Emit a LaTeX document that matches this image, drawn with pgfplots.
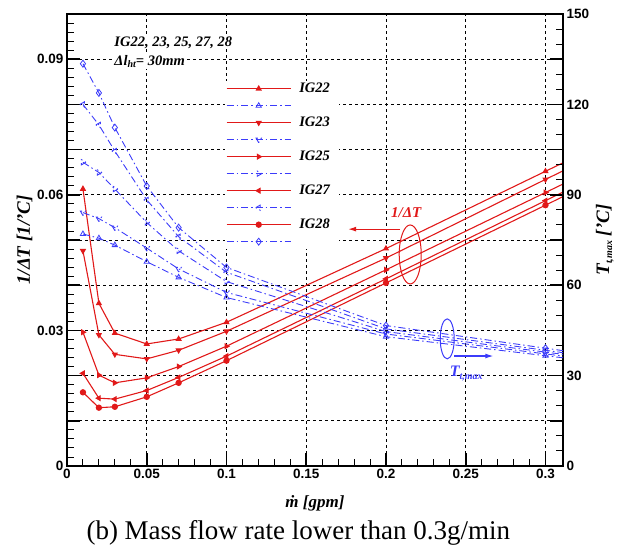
\documentclass[border=0pt]{standalone}
\usepackage{fontspec}
\setmainfont{Liberation Serif}
\newfontfamily\arialf{Liberation Sans}
\usepackage{pgfplots}
\usepackage{pgfplotstable}
\usetikzlibrary{arrows.meta,calc}
\pgfplotsset{compat=1.18}
\definecolor{myred}{RGB}{225,25,25}
\definecolor{myblue}{RGB}{60,60,250}
\newcommand{\tickfont}{\arialf\bfseries\fontsize{13.5}{13.5}\selectfont}
\newcommand{\bi}{\bfseries\itshape}
\newcommand{\sub}[1]{\raisebox{-0.35ex}{\fontsize{10}{10}\selectfont #1}}

\pgfplotstableread{
x     IG22   IG23   IG25   IG27   IG28
0.01  0.0613 0.0476 0.0296 0.0205 0.0163
0.02  0.0360 0.0290 0.0201 0.0150 0.0129
0.03  0.0294 0.0247 0.0184 0.0148 0.0131
0.05  0.0270 0.0237 0.0195 0.0167 0.0153
0.07  0.0281 0.0256 0.0220 0.0196 0.0184
0.10  0.0318 0.0298 0.0265 0.0243 0.0233
0.20  0.0481 0.0460 0.0434 0.0414 0.0405
0.30  0.0652 0.0634 0.0605 0.0587 0.0577
0.40  0.0822 0.0806 0.0776 0.0760 0.0750
}\redtab

\pgfplotstableread{
x     IG22  IG23  IG25  IG27  IG28
0.01  77.0  84.1  100.8 120.0 133.5
0.02  75.6  82.1  97.4  113.2 123.8
0.03  73.3  79.1  91.9  104.5 112.3
0.05  67.8  72.3  80.8  88.3  92.9
0.07  62.6  65.4  71.4  76.1  79.1
0.10  55.9  57.6  61.2  64.3  65.9
0.20  42.9  43.8  44.6  45.5  46.6
0.30  36.6  37.2  37.8  38.4  39.1
0.40  30.3  30.6  31.0  31.3  31.6
}\bluetab

\pgfplotsset{
  every axis/.append style={
    scale only axis, width=496pt, height=452pt,
    xmin=0, xmax=0.311,
    tick label style={font=\tickfont},
    major tick length=13pt, minor tick length=7pt,
    every major tick/.append style={line width=1.6pt, black},
    every minor tick/.append style={line width=0.9pt, black},
    axis line style={line width=2.5pt, black},
  },
  redline/.style={myred, line width=1.1pt, mark size=2.6pt},
  blueline/.style={myblue, line width=0.9pt, dash pattern=on 7pt off 3pt on 1.5pt off 3pt, mark size=3pt, mark options={solid, fill=white, line width=0.8pt}},
}

\begin{document}
\begin{tikzpicture}
\begin{axis}[
  ymin=0, ymax=0.1,
  tick pos=left,
  xtick={0,0.05,0.1,0.15,0.2,0.25,0.3},
  xticklabels={0,0.05,0.1,0.15,0.2,0.25,0.3},
  ytick={0,0.01,0.02,0.03,0.04,0.05,0.06,0.07,0.08,0.09,0.1},
  yticklabels={0,,,0.03,,,0.06,,,0.09,},
  minor x tick num=4, minor y tick num=4,
  grid=major,
  grid style={black, line width=0.8pt, dash pattern=on 3pt off 3pt},
  xlabel={\bi\fontsize{17}{17}\selectfont \.{m} [gpm]},
  xlabel style={yshift=-10pt},
  ylabel={\bi\fontsize{19}{19}\selectfont 1/ΔT [1/'C]},
  ylabel style={yshift=-2pt},
  clip mode=individual,
]
\addplot[redline, mark=triangle*] table[x=x,y=IG22]{\redtab};
\addplot[redline, mark=triangle*, mark options={rotate=180}] table[x=x,y=IG23]{\redtab};
\addplot[redline, mark=triangle*, mark options={rotate=-90}] table[x=x,y=IG25]{\redtab};
\addplot[redline, mark=triangle*, mark options={rotate=90}] table[x=x,y=IG27]{\redtab};
\addplot[redline, mark=*] table[x=x,y=IG28]{\redtab};
\node[fill=white, inner sep=1pt, anchor=west, font=\bi\fontsize{14.5}{14.5}\selectfont] at (axis cs:0.029,0.0937) {IG22, 23, 25, 27, 28};
\node[fill=white, inner sep=1pt, anchor=west, font=\bi\fontsize{14.5}{14.5}\selectfont] at (axis cs:0.029,0.0895) {Δ\textit{l}\sub{ht}= 30mm};
\node[myred, font=\bi\fontsize{15}{15}\selectfont] at (axis cs:0.2127,0.056) {1/ΔT};
\draw[myred, line width=1pt] (axis cs:0.2152,0.0468) ellipse [x radius=11pt, y radius=29.5pt];
\draw[myred, line width=1.1pt, -{Latex[length=8pt,width=5pt]}] (axis cs:0.2089,0.0524) -- (axis cs:0.1763,0.0524);
\coordinate (bl) at (rel axis cs:0,0);
\coordinate (br) at (rel axis cs:1,0);
\coordinate (tr) at (rel axis cs:1,1);
\end{axis}
\begin{axis}[
  ymin=0, ymax=150,
  axis x line=none,
  axis y line*=right,
  ytick={0,15,30,45,60,75,90,105,120,135,150},
  yticklabels={0,,30,,60,,90,,120,,150},
  minor y tick num=2,
  ylabel={\bi\fontsize{19}{19}\selectfont T\sub{t,max} ['C]},
  legend image code/.code={\draw[mark repeat=2,mark phase=2,#1] plot coordinates {(0pt,0pt) (32pt,0pt) (64pt,0pt)};},
  legend style={at={(rel axis cs:0.3185,0.8518)}, anchor=north west, draw=none, fill=white,
    font=\bi\fontsize{14.5}{14.5}\selectfont, row sep=4pt, inner sep=1pt,
    nodes={inner ysep=0pt, inner xsep=8pt, text height=10pt, text depth=3pt}},
  legend cell align=left,
]
\addlegendimage{redline, mark=triangle*}
\addlegendentry{IG22}
\addlegendimage{blueline, mark=triangle}
\addlegendentry{}
\addlegendimage{redline, mark=triangle*, mark options={rotate=180}}
\addlegendentry{IG23}
\addlegendimage{blueline, mark=triangle, mark options={rotate=180}}
\addlegendentry{}
\addlegendimage{redline, mark=triangle*, mark options={rotate=-90}}
\addlegendentry{IG25}
\addlegendimage{blueline, mark=triangle, mark options={rotate=-90}}
\addlegendentry{}
\addlegendimage{redline, mark=triangle*, mark options={rotate=90}}
\addlegendentry{IG27}
\addlegendimage{blueline, mark=triangle, mark options={rotate=90}}
\addlegendentry{}
\addlegendimage{redline, mark=*}
\addlegendentry{IG28}
\addlegendimage{blueline, mark=diamond, mark size=3.5pt}
\addlegendentry{}
\addplot[blueline, mark=triangle, forget plot] table[x=x,y=IG22]{\bluetab};
\addplot[blueline, mark=triangle, mark options={rotate=180}, forget plot] table[x=x,y=IG23]{\bluetab};
\addplot[blueline, mark=triangle, mark options={rotate=-90}, forget plot] table[x=x,y=IG25]{\bluetab};
\addplot[blueline, mark=triangle, mark options={rotate=90}, forget plot] table[x=x,y=IG27]{\bluetab};
\addplot[blueline, mark=diamond, mark size=3.5pt, forget plot] table[x=x,y=IG28]{\bluetab};
\draw[myblue, line width=1pt] (axis cs:0.2384,42.2) ellipse [x radius=7pt, y radius=20pt];
\draw[myblue, line width=1.1pt, -{Latex[length=8pt,width=5pt]}] (axis cs:0.2428,36.5) -- (axis cs:0.2673,36.5);
\node[myblue, font=\bi\fontsize{16}{16}\selectfont] at (axis cs:0.2503,30.6) {T\sub{t,max}};
\end{axis}
\node[font=\fontsize{27}{27}\selectfont, anchor=base west] at ($(bl)+(16pt,-74pt)$) {(b) Mass flow rate lower than 0.3g/min};
\pgfresetboundingbox
\path[use as bounding box] ([shift={(-67pt,-79pt)}]bl) rectangle ([shift={(65pt,14pt)}]tr);
\end{tikzpicture}
\end{document}
